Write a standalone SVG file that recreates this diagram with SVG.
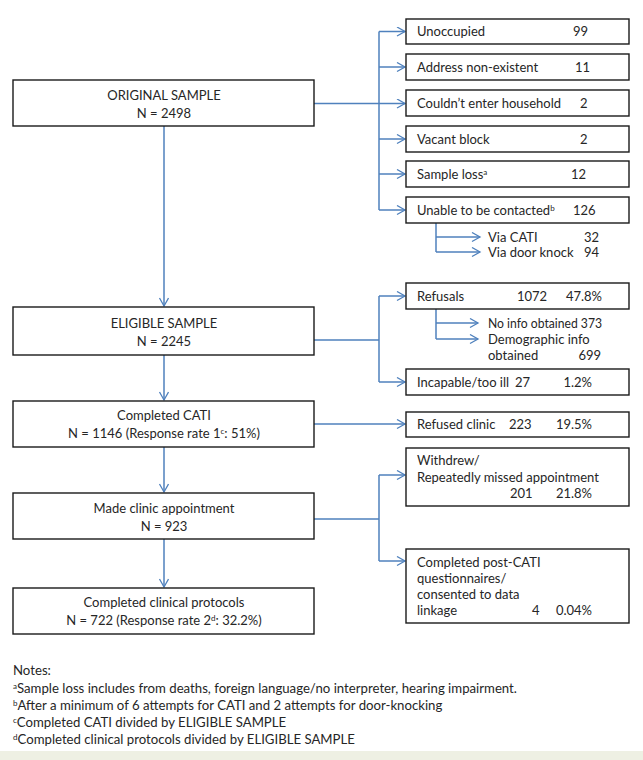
<svg xmlns="http://www.w3.org/2000/svg" width="643" height="760" viewBox="0 0 643 760">
<defs>
<marker id="ah" markerWidth="12" markerHeight="12" refX="9" refY="5" orient="auto" markerUnits="userSpaceOnUse">
<path d="M1,0.5 L9,5 L1,9.5" fill="none" stroke="#4f81bd" stroke-width="1.3"/>
</marker>
<style>
.box{fill:#fff;stroke:#1a1a1a;stroke-width:1.4}
.t{font-family:Lato,"Liberation Sans",sans-serif;font-size:13px;fill:#262626}
.c{text-anchor:middle}
.r{text-anchor:end}
.n{font-family:Lato,"Liberation Sans",sans-serif;font-size:13.2px;fill:#262626}
.ln{fill:none;stroke:#4f81bd;stroke-width:1.5}
.ar{fill:none;stroke:#4f81bd;stroke-width:1.5;marker-end:url(#ah)}
</style>
</defs>
<rect x="0" y="0" width="643" height="760" fill="#fff"/>
<rect x="0" y="751" width="643" height="9" fill="#eef0e3"/>

<g id="connectors">
<path class="ar" d="M164,126 V306"/>
<path class="ar" d="M164,355 V400"/>
<path class="ar" d="M164,447 V492"/>
<path class="ar" d="M164,539 V587"/>
<path class="ln" d="M314,103.5 H379 M379,31.5 V210"/>
<path class="ar" d="M379,31.5 H405"/>
<path class="ar" d="M379,67 H405"/>
<path class="ar" d="M379,103.5 H405"/>
<path class="ar" d="M379,139 H405"/>
<path class="ar" d="M379,174 H405"/>
<path class="ar" d="M379,210 H405"/>
<path class="ln" d="M436,223 V252"/>
<path class="ar" d="M436,237 H480"/>
<path class="ar" d="M436,252 H480"/>
<path class="ln" d="M314,340 H379 M379,296 V382"/>
<path class="ar" d="M379,296 H405"/>
<path class="ar" d="M379,382 H405"/>
<path class="ln" d="M436,309 V339"/>
<path class="ar" d="M436,323 H478"/>
<path class="ar" d="M436,339 H478"/>
<path class="ar" d="M314,424 H405"/>
<path class="ln" d="M314,519 H379 M379,475 V561"/>
<path class="ar" d="M379,475 H405"/>
<path class="ar" d="M379,561 H405"/>
</g>

<g id="original">
<rect class="box" x="13" y="80" width="301" height="46"/>
<text class="t c" x="164" y="99.5">ORIGINAL SAMPLE</text>
<text class="t c" x="164" y="117.5">N = 2498</text>
</g>
<g id="eligible">
<rect class="box" x="13" y="307" width="301" height="48"/>
<text class="t c" x="164" y="327.5">ELIGIBLE SAMPLE</text>
<text class="t c" x="164" y="346">N = 2245</text>
</g>
<g id="cati">
<rect class="box" x="13" y="401" width="301" height="46"/>
<text class="t c" x="164" y="419.5">Completed CATI</text>
<text class="t c" x="164" y="438">N = 1146 (Response rate 1<tspan font-size="8" dy="-4">c</tspan><tspan dy="4">: 51%)</tspan></text>
</g>
<g id="clinic">
<rect class="box" x="13" y="493" width="301" height="46"/>
<text class="t c" x="164" y="512.5">Made clinic appointment</text>
<text class="t c" x="164" y="530.5">N = 923</text>
</g>
<g id="protocols">
<rect class="box" x="13" y="588" width="301" height="46"/>
<text class="t c" x="164" y="606.5">Completed clinical protocols</text>
<text class="t c" x="164" y="625">N = 722 (Response rate 2<tspan font-size="8" dy="-4">d</tspan><tspan dy="4">: 32.2%)</tspan></text>
</g>

<g id="unoccupied">
<rect class="box" x="406" y="19" width="223" height="25"/>
<text class="t" x="417" y="36">Unoccupied</text>
<text class="t" x="573" y="36">99</text>
</g>
<g id="address">
<rect class="box" x="406" y="54" width="223" height="26"/>
<text class="t" x="417" y="71.5">Address non-existent</text>
<text class="t" x="575" y="71.5">11</text>
</g>
<g id="household">
<rect class="box" x="406" y="90" width="223" height="26"/>
<text class="t" x="417" y="107.5">Couldn’t enter household</text>
<text class="t" x="580" y="107.5">2</text>
</g>
<g id="vacant">
<rect class="box" x="406" y="126" width="223" height="26"/>
<text class="t" x="417" y="143.5">Vacant block</text>
<text class="t" x="580" y="143.5">2</text>
</g>
<g id="sampleloss">
<rect class="box" x="406" y="161" width="223" height="26"/>
<text class="t" x="417" y="178.5">Sample loss<tspan font-size="8" dy="-4">a</tspan></text>
<text class="t" x="571" y="178.5">12</text>
</g>
<g id="unable">
<rect class="box" x="406" y="197" width="223" height="26"/>
<text class="t" x="417" y="214.5">Unable to be contacted<tspan font-size="8" dy="-4">b</tspan></text>
<text class="t" x="573" y="214.5">126</text>
</g>
<g id="via">
<text class="t" x="488" y="241.5">Via CATI</text>
<text class="t" x="584" y="241.5">32</text>
<text class="t" x="488" y="256.5">Via door knock</text>
<text class="t" x="584" y="256.5">94</text>
</g>
<g id="refusals">
<rect class="box" x="406" y="283" width="223" height="26"/>
<text class="t" x="417" y="300.5">Refusals</text>
<text class="t" x="517" y="300.5">1072</text>
<text class="t r" x="602" y="300.5">47.8%</text>
</g>
<g id="refusal-sub">
<text class="t" x="488" y="327.5" textLength="114" lengthAdjust="spacingAndGlyphs">No info obtained 373</text>
<text class="t" x="488" y="343.5">Demographic info</text>
<text class="t" x="488" y="359.5">obtained</text>
<text class="t r" x="601" y="359.5">699</text>
</g>
<g id="incapable">
<rect class="box" x="406" y="369" width="223" height="26"/>
<text class="t" x="417" y="386.5">Incapable/too ill</text>
<text class="t" x="515" y="386.5">27</text>
<text class="t r" x="592" y="386.5">1.2%</text>
</g>
<g id="refusedclinic">
<rect class="box" x="406" y="412" width="223" height="25"/>
<text class="t" x="417" y="428.5">Refused clinic</text>
<text class="t" x="509" y="428.5">223</text>
<text class="t r" x="592" y="428.5">19.5%</text>
</g>
<g id="withdrew">
<rect class="box" x="406" y="448" width="223" height="58"/>
<text class="t" x="417" y="464.5">Withdrew/</text>
<text class="t" x="417" y="481.5">Repeatedly missed appointment</text>
<text class="t" x="510" y="497.5">201</text>
<text class="t r" x="592" y="497.5">21.8%</text>
</g>
<g id="postcati">
<rect class="box" x="406" y="549" width="223" height="74"/>
<text class="t" x="417" y="566.5">Completed post-CATI</text>
<text class="t" x="417" y="582.5">questionnaires/</text>
<text class="t" x="417" y="598.5">consented to data</text>
<text class="t" x="417" y="614.5">linkage</text>
<text class="t" x="532" y="614.5">4</text>
<text class="t r" x="592" y="614.5">0.04%</text>
</g>

<g id="notes">
<text class="n" x="13" y="675">Notes:</text>
<text class="n" x="13" y="692.5"><tspan font-size="8" dy="-4">a</tspan><tspan dy="4">Sample loss includes from deaths, foreign language/no interpreter, hearing impairment.</tspan></text>
<text class="n" x="13" y="709.5"><tspan font-size="8" dy="-4">b</tspan><tspan dy="4">After a minimum of 6 attempts for CATI and 2 attempts for door-knocking</tspan></text>
<text class="n" x="13" y="726.5"><tspan font-size="8" dy="-4">c</tspan><tspan dy="4">Completed CATI divided by ELIGIBLE SAMPLE</tspan></text>
<text class="n" x="13" y="743.5"><tspan font-size="8" dy="-4">d</tspan><tspan dy="4">Completed clinical protocols divided by ELIGIBLE SAMPLE</tspan></text>
</g>
</svg>
